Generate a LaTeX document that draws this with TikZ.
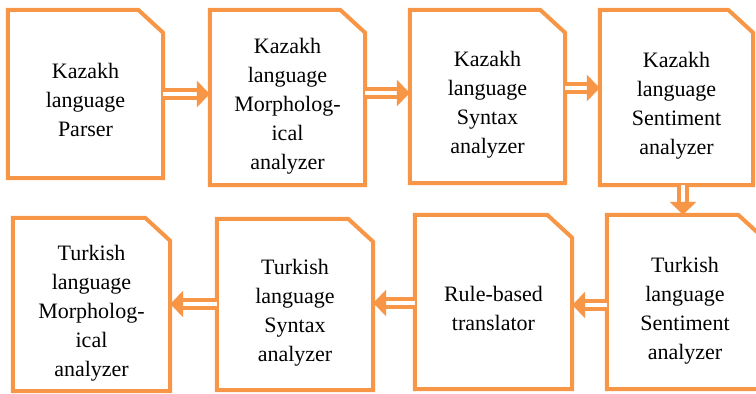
\documentclass[tikz,border=0pt]{standalone}
\usepackage{fontspec}
\setmainfont{Liberation Serif}
\usetikzlibrary{arrows.meta}
\definecolor{orng}{RGB}{247,150,70}
\newcommand\tx[1]{\raisebox{-8pt}[\height][\depth]{\begin{tabular}{@{}c@{}}#1\end{tabular}}}
\newcommand\chambox[1]{\draw[boxline] (#1.south west) -- (#1.north west) -- ([xshift=-25pt]#1.north east) -- ([yshift=-23pt]#1.north east) -- (#1.south east) -- cycle;}
\begin{document}
\begin{tikzpicture}[x=1pt,y=-1pt,
  boxline/.style={draw=orng,line width=4pt,line join=miter},
  kbox/.style={inner sep=0pt,font=\fontsize{22}{29}\selectfont},
  flow/.style={draw=orng,line width=4pt,double=white,double distance=4.5pt,-{Triangle[length=13pt,width=26pt]}}]
\useasboundingbox (0,0) rectangle (756,394);
\clip (0,0) rectangle (756,394);
\def\mk#1#2#3#4#5#6{\node[kbox,minimum width={#4-#2},minimum height={#5-#3}] (#1) at ({(#2+#4)/2},{(#3+#5)/2}) {\tx{#6}};\chambox{#1}}
\mk{b1}{8}{10}{163}{178}{Kazakh\\language\\Parser}
\mk{b2}{210}{10}{365}{185}{Kazakh\\language\\Morpholog-\\ical\\analyzer}
\mk{b3}{410}{10}{565}{183}{Kazakh\\language\\Syntax\\analyzer}
\mk{b4}{600}{10}{753}{185}{Kazakh\\language\\Sentiment\\analyzer}
\mk{b5}{607}{215}{763}{389}{Turkish\\language\\Sentiment\\analyzer}
\mk{b6}{415}{215}{572}{389}{Rule-based\\translator}
\mk{b7}{217}{219}{373}{390}{Turkish\\language\\Syntax\\analyzer}
\mk{b8}{13}{218}{170}{391}{Turkish\\language\\Morpholog-\\ical\\analyzer}
\draw[flow] (b1.east |- 0,94) -- (b2.west |- 0,94);
\draw[flow] (b2.east |- 0,93) -- (b3.west |- 0,93);
\draw[flow] (b3.east |- 0,88) -- (b4.west |- 0,88);
\draw[flow] (b4.south -| 683,0) -- (b5.north -| 683,0);
\draw[flow] (b5.west |- 0,305) -- (b6.east |- 0,305);
\draw[flow] (b6.west |- 0,303) -- (b7.east |- 0,303);
\draw[flow] (b7.west |- 0,304) -- (b8.east |- 0,304);
\end{tikzpicture}
\end{document}
